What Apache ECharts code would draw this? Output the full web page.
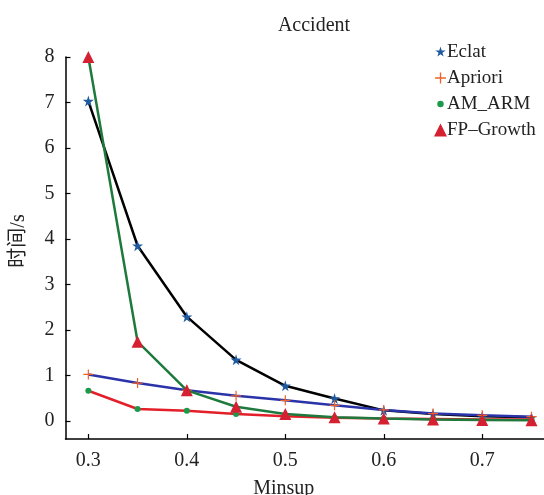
<!DOCTYPE html>
<html><head><meta charset="utf-8">
<script src="https://cdn.jsdelivr.net/npm/echarts@6/dist/echarts.min.js"></script>
<style>html,body{margin:0;padding:0;background:#fff}#c{width:544px;height:495px}</style>
</head><body><div id="c"></div>
<script>
const minsup = [0.30, 0.35, 0.40, 0.45, 0.50, 0.55, 0.60, 0.65, 0.70, 0.75];
const eclat = [7.03, 3.85, 2.29, 1.34, 0.77, 0.49, 0.23, 0.15, 0.10, 0.08];
const apriori = [1.02, 0.83, 0.67, 0.55, 0.45, 0.34, 0.24, 0.16, 0.12, 0.09];
const amArm = [0.66, 0.26, 0.22, 0.15, 0.10, 0.07, 0.05, 0.04, 0.03, 0.03];
const fpGrowth = [8.0, 1.74, 0.67, 0.31, 0.15, 0.08, 0.05, 0.03, 0.02, 0.01];
const xTicks = [0.3, 0.4, 0.5, 0.6, 0.7];
const yTicks = [0, 1, 2, 3, 4, 5, 6, 7, 8];
const seriesNames = ['Eclat', 'Apriori', 'AM_ARM', 'FP\u2013Growth'];

const FONT = 'Liberation Serif, Noto Sans CJK SC, serif';
const STAR = 'path://M50,0L61,35L98,35L68,57L79,91L50,70L21,91L32,57L2,35L39,35Z';
const PLUS = 'path://M44,0H56V44H100V56H56V100H44V56H0V44H44Z';
const DOT_SMALL = 'path://M0,0M100,100M50,25A25,25 0 1,1 49.9,25Z';
const STAR_SMALL = 'path://M-10,-10M110,110M50,0L61,35L98,35L68,57L79,91L50,70L21,91L32,57L2,35L39,35Z';
const PLUS_SMALL = 'path://M-10,-10M110,110M44,0H56V44H100V56H56V100H44V56H0V44H44Z';

const pairs = a => minsup.map((x, i) => [x, a[i]]);

const chart = echarts.init(document.getElementById('c'), null, {renderer: 'canvas'});
chart.setOption({
  animation: false,
  backgroundColor: '#fff',
  textStyle: {fontFamily: FONT},
  title: {
    text: 'Accident', left: 309, top: 11, textAlign: 'center',
    textStyle: {fontFamily: FONT, fontSize: 20, fontWeight: 'normal', color: '#222'}
  },
  legend: {
    orient: 'vertical', left: 429, top: 37, itemWidth: 13, itemHeight: 13, itemGap: 6,
    textStyle: {fontFamily: FONT, fontSize: 19, color: '#222', lineHeight: 20, padding: [0,0,0,-5]},
    data: [
      {name: seriesNames[0], icon: STAR_SMALL},
      {name: seriesNames[1], icon: PLUS_SMALL},
      {name: seriesNames[2], icon: DOT_SMALL},
      {name: seriesNames[3], icon: 'triangle'}
    ]
  },
  grid: {left: 65.5, right: 0, top: 57, bottom: 56, containLabel: false, outerBoundsMode: 'none'},
  xAxis: {
    type: 'value', min: 0.2768, max: 0.7627,
    name: 'Minsup', nameLocation: 'middle', nameGap: 40,
    nameTextStyle: {fontFamily: FONT, fontSize: 20, color: '#222', padding: [0, 42, 0, 0]},
    axisLine: {show: true, onZero: false, lineStyle: {color: '#000', width: 1.5}},
    axisTick: {show: true, inside: true, length: 5, customValues: xTicks, lineStyle: {color: '#000', width: 1.2}},
    axisLabel: {customValues: xTicks, formatter: v => v.toFixed(1), margin: 12,
      fontFamily: FONT, fontSize: 20, color: '#222'},
    splitLine: {show: false}
  },
  yAxis: {
    type: 'value', min: -0.4, max: 8,
    name: '时间/s', nameLocation: 'middle', nameGap: 37, nameRotate: 90,
    nameTextStyle: {fontFamily: FONT, fontSize: 20, color: '#222', padding: [0, 0, 0, 14]},
    axisLine: {show: true, onZero: false, lineStyle: {color: '#000', width: 1.5}},
    axisTick: {show: true, inside: true, length: 5, customValues: yTicks, lineStyle: {color: '#000', width: 1.2}},
    axisLabel: {customValues: yTicks, margin: 11, fontFamily: FONT, fontSize: 20, color: '#222'},
    splitLine: {show: false}
  },
  series: [
    {name: seriesNames[0], type: 'line', data: pairs(eclat), symbol: STAR, symbolSize: 11,
      itemStyle: {color: '#1f5aa0'}, lineStyle: {color: '#000', width: 2.5}, z: 2},
    {name: seriesNames[1], type: 'line', data: pairs(apriori), symbol: PLUS, symbolSize: 10,
      itemStyle: {color: '#f0602a'}, lineStyle: {color: '#2b33a8', width: 2.5}, z: 3},
    {name: seriesNames[2], type: 'line', data: pairs(amArm), symbol: 'circle', symbolSize: 6,
      itemStyle: {color: '#1a9a4a'}, lineStyle: {color: '#e3202a', width: 2.5}, z: 4},
    {name: seriesNames[3], type: 'line', data: pairs(fpGrowth), symbol: 'triangle', symbolSize: 12,
      itemStyle: {color: '#d42030'}, lineStyle: {color: '#1e7a3c', width: 2.5}, z: 5}
  ]
});
</script></body></html>
